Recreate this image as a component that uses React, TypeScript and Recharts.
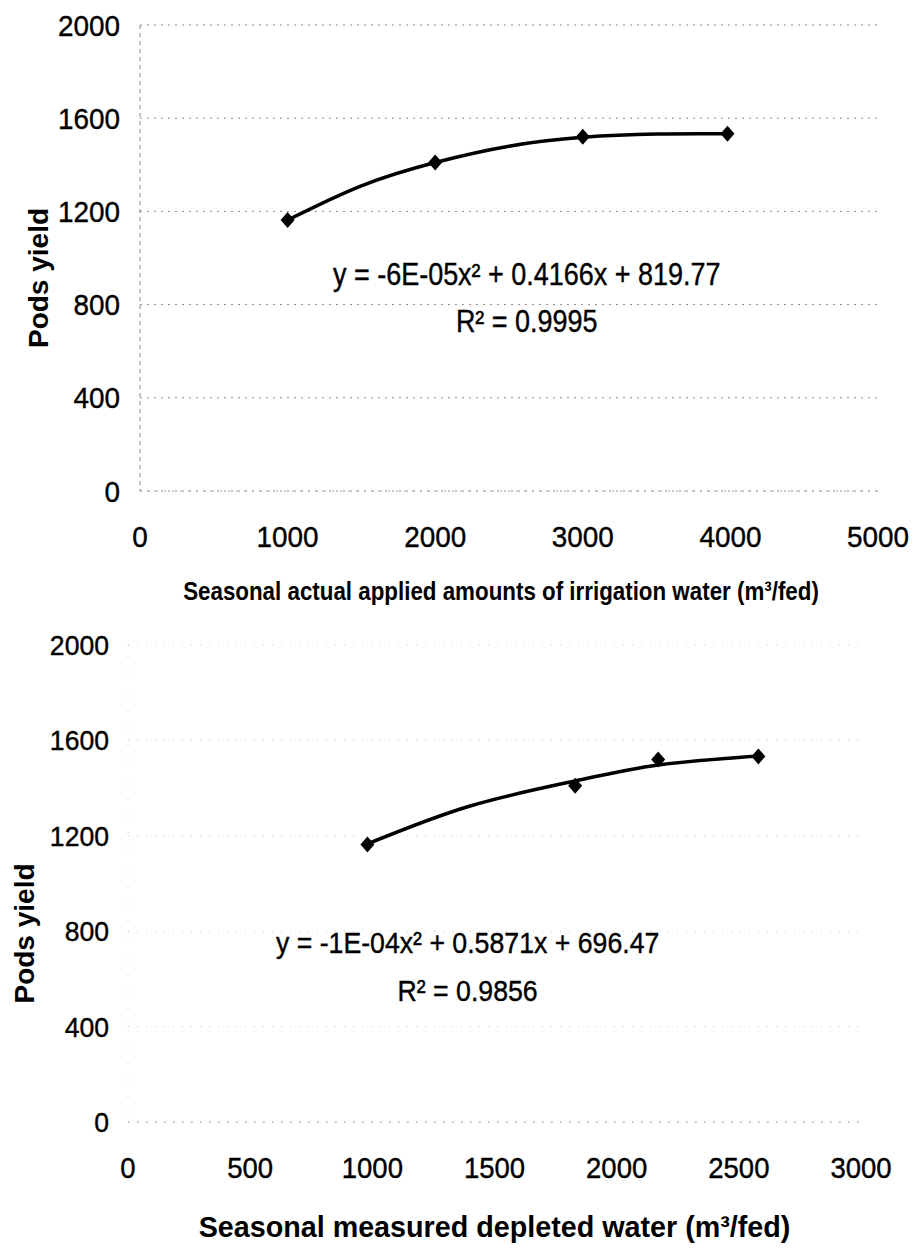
import { LineChart, Line, XAxis, YAxis, CartesianGrid, Label, ReferenceDot } from "recharts";

const FONT = "'Liberation Sans', Arial, Helvetica, sans-serif";

// pods yield (same four treatments in both panels)
const podsYield = [1163, 1410, 1520, 1533];
const appliedWater = [1000, 2000, 3000, 3980];
const depletedWater = [980, 1830, 2170, 2580];

// fitted trend curves
const appliedTrendX = [1000, 1500, 2000, 2500, 3000, 3500, 3980];
const appliedTrendY = [1163, 1310, 1410, 1480, 1518, 1532, 1533];
const depletedTrendX = [980, 1400, 1830, 2170, 2580];
const depletedTrendY = [1166, 1325, 1430, 1497, 1535];

const yieldTicks = [0, 400, 800, 1200, 1600, 2000];
const appliedTicks = [0, 1000, 2000, 3000, 4000, 5000];
const depletedTicks = [0, 500, 1000, 1500, 2000, 2500, 3000];

const appliedData = appliedWater.map((x, i) => ({ x, y: podsYield[i] }));
const depletedData = depletedWater.map((x, i) => ({ x, y: podsYield[i] }));
const appliedTrend = appliedTrendX.map((x, i) => ({ x, y: appliedTrendY[i] }));
const depletedTrend = depletedTrendX.map((x, i) => ({ x, y: depletedTrendY[i] }));

function Diamond(props: any) {
  const { cx, cy } = props;
  if (cx == null || cy == null) return null;
  return <path d={`M${cx},${cy - 8}L${cx + 7},${cy}L${cx},${cy + 8}L${cx - 7},${cy}Z`} fill="#000" />;
}

// condensed-looking tick text
function makeTick(size: number, squeeze: number, side: "x" | "y") {
  return (p: any) => {
    const { x, y, payload } = p;
    return (
      <g transform={`translate(${x},${y}) scale(${squeeze},1)`}>
        <text
          x={0} y={0}
          dy={side === "x" ? "0.71em" : "0.355em"}
          textAnchor={side === "x" ? "middle" : "end"}
          fontFamily={FONT} fontSize={size} fill="#000" stroke="#000" strokeWidth={0.4}
        >
          {payload.value}
        </text>
      </g>
    );
  };
}

function xTitle(text: string, dy: number, dx: number, squeeze: number, size: number) {
  return (p: any) => {
    const vb = p.viewBox;
    const cx = vb.x + vb.width / 2 + dx;
    const cy = vb.y + dy;
    return (
      <g transform={`translate(${cx},${cy}) scale(${squeeze},1)`}>
        <text
          x={0} y={0}
          textAnchor="middle" dominantBaseline="central"
          fontFamily={FONT} fontWeight="bold" fontSize={size} fill="#000"
        >
          {text}
        </text>
      </g>
    );
  };
}

function yTitle(cx: number, dy: number, size: number) {
  return (p: any) => {
    const vb = p.viewBox;
    const cy = vb.y + vb.height / 2 + dy;
    return (
      <text
        x={cx} y={cy} transform={`rotate(-90 ${cx} ${cy})`}
        textAnchor="middle" dominantBaseline="central"
        fontFamily={FONT} fontWeight="bold" fontSize={size} fill="#000"
      >
        Pods yield
      </text>
    );
  };
}

function equation(eq: string, r2: string, squeeze: number, gap: number, size: number) {
  return (p: any) => {
    const vb = p.viewBox;
    const cx = vb.x + vb.width / 2;
    const cy = vb.y + vb.height / 2;
    return (
      <g transform={`translate(${cx},${cy}) scale(${squeeze},1)`} fontFamily={FONT} fontSize={size} fill="#000" stroke="#000" strokeWidth={0.4}>
        <text x={0} y={0} dy="0.355em" textAnchor="middle">{eq}</text>
        <text x={0} y={gap} dy="0.355em" textAnchor="middle">{r2}</text>
      </g>
    );
  };
}

function AppliedChart() {
  return (
    <LineChart width={913} height={620} margin={{ top: 25, right: 35, bottom: 39, left: 0 }}>
      <CartesianGrid vertical={false} stroke="#8a8a8a" strokeDasharray="2 5" />
      <XAxis
        type="number" dataKey="x" domain={[0, 5000]} ticks={appliedTicks} interval={0}
        height={90} tickSize={0} tickMargin={35}
        axisLine={{ stroke: "#aaa", strokeDasharray: "2 6" }}
        tick={makeTick(30, 0.93, "x")}
      >
        <Label content={xTitle("Seasonal actual applied amounts of irrigation water (m³/fed)", 100, -8, 0.86, 26)} />
      </XAxis>
      <YAxis
        type="number" domain={[0, 2000]} ticks={yieldTicks} interval={0}
        width={140} tickSize={0} tickMargin={20}
        axisLine={{ stroke: "#888", strokeDasharray: "4 4" }}
        tick={makeTick(30, 0.93, "y")}
      >
        <Label content={yTitle(38, 20, 28)} />
      </YAxis>
      <Line data={appliedTrend} type="natural" dataKey="y" stroke="#000" strokeWidth={3.5} dot={false} activeDot={false} isAnimationActive={false} />
      <Line data={appliedData} dataKey="y" stroke="none" dot={<Diamond />} activeDot={false} isAnimationActive={false} />
      <ReferenceDot
        x={2620} y={930} r={1} fill="none" stroke="none"
        label={{ content: equation("y = -6E-05x² + 0.4166x + 819.77", "R² = 0.9995", 0.87, 47, 31) }}
      />
    </LineChart>
  );
}

function DepletedChart() {
  return (
    <LineChart width={913} height={628} margin={{ top: 25, right: 52, bottom: 36, left: 0 }}>
      <CartesianGrid vertical={false} stroke="#c4c4c4" strokeDasharray="1 8" />
      <XAxis
        type="number" dataKey="x" domain={[0, 3000]} ticks={depletedTicks} interval={0}
        height={90} tickSize={0} tickMargin={35}
        axisLine={{ stroke: "#aaa", strokeDasharray: "2 7" }}
        tick={makeTick(29, 0.95, "x")}
      >
        <Label content={xTitle("Seasonal measured depleted water (m³/fed)", 105, 0, 0.99, 29)} />
      </XAxis>
      <YAxis
        type="number" domain={[0, 2000]} ticks={yieldTicks} interval={0}
        width={128} tickSize={0} tickMargin={19}
        axisLine={{ stroke: "#bbb", strokeDasharray: "1 10" }}
        tick={makeTick(28, 0.95, "y")}
      >
        <Label content={yTitle(24, 50, 28)} />
      </YAxis>
      <Line data={depletedTrend} type="natural" dataKey="y" stroke="#000" strokeWidth={3.5} dot={false} activeDot={false} isAnimationActive={false} />
      <Line data={depletedData} dataKey="y" stroke="none" dot={<Diamond />} activeDot={false} isAnimationActive={false} />
      <ReferenceDot
        x={1390} y={755} r={1} fill="none" stroke="none"
        label={{ content: equation("y = -1E-04x² + 0.5871x + 696.47", "R² = 0.9856", 0.89, 48, 30) }}
      />
    </LineChart>
  );
}

export default function App() {
  return (
    <div style={{ position: "absolute", left: 0, top: 0, width: 913, height: 1248, background: "#fff" }}>
      <AppliedChart />
      <DepletedChart />
    </div>
  );
}
